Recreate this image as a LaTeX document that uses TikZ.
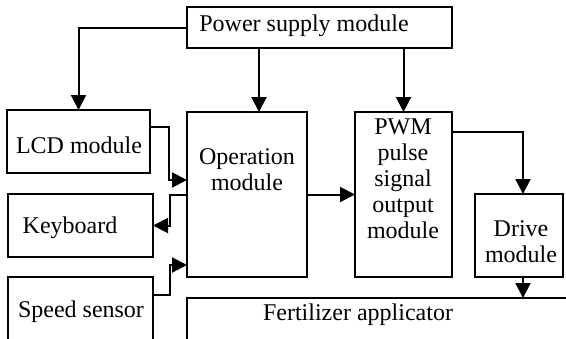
\documentclass[tikz,border=0pt]{standalone}
\usepackage{fontspec}
\setmainfont{Liberation Serif}
\usetikzlibrary{arrows.meta}

\tikzset{
  blk/.style={draw, line width=1pt, inner sep=0pt, outer sep=0pt},
  lbl/.style={align=center, inner sep=0pt, font=\fontsize{12}{13}\selectfont},
  arr/.style={line width=1pt, -{Triangle[length=7.5pt,width=7.5pt]}}
}

\begin{document}
\begin{tikzpicture}[x=0.5pt,y=-0.5pt]
  \useasboundingbox (0,0) rectangle (566,338);
  \clip (0,0) rectangle (566,338);
  % boxes
  \node[blk, minimum width=132.5pt, minimum height=20.5pt] (power) at (319.5,27.5) {};
  \node[blk, minimum width=71.5pt, minimum height=31.5pt] (lcd) at (78.5,141.5) {};
  \node[blk, minimum width=72.5pt, minimum height=31.5pt] (kb) at (80.5,225.5) {};
  \node[blk, minimum width=72.5pt, minimum height=41.5pt] (speed) at (80.5,318.5) {};
  \node[blk, minimum width=60pt, minimum height=82.5pt] (op) at (247,194.5) {};
  \node[blk, minimum width=48.5pt, minimum height=82.5pt] (pwm) at (403.5,194.5) {};
  \node[blk, minimum width=44pt, minimum height=41.5pt] (drive) at (519,235.5) {};
  \node[blk, minimum width=216.5pt, minimum height=41pt] (fert) at (403.5,339) {};
  % texts
  \node[lbl] (powertext) at (304,26) {Power supply module};
  \node[lbl] (lcdtext) at (79,145) {LCD module};
  \node[lbl] (kbtext) at (70,228) {Keyboard};
  \node[lbl] (speedtext) at (81,312) {Speed sensor};
  \node[lbl] (optext) at (247,170) {Operation\\module};
  \node[lbl] (pwmtext) at (403,179) {PWM\\pulse\\signal\\output\\module};
  \node[lbl] (drivetext) at (521,241.5) {Drive\\module};
  \node[lbl] (ferttext) at (358,315) {Fertilizer applicator};
  % connectors
  \draw[arr] (power.west) -| (lcd.north);
  \draw[arr] ([xshift=6pt]op.north |- power.south) -- ([xshift=6pt]op.north);
  \draw[arr] (pwm.north |- power.south) -- (pwm.north);
  \draw[arr] ([yshift=-10pt]pwm.north east) -| ([xshift=2pt]drive.north);
  \draw[arr] ([xshift=2pt]drive.south) -- ([xshift=2pt]drive.south |- fert.north);
  \draw[arr] (op.east) -- (pwm.west);
  \draw[arr] ([yshift=-8.5pt]lcd.north east) -- ++(19,0) |- ([yshift=7.25pt]op.west);
  \draw[arr] (op.west) -- ++(-17,0) |- (kb.east);
  \draw[arr] ([yshift=-9pt]speed.north east) -- ++(17,0) |- ([yshift=-35.25pt]op.west);
\end{tikzpicture}
\end{document}
